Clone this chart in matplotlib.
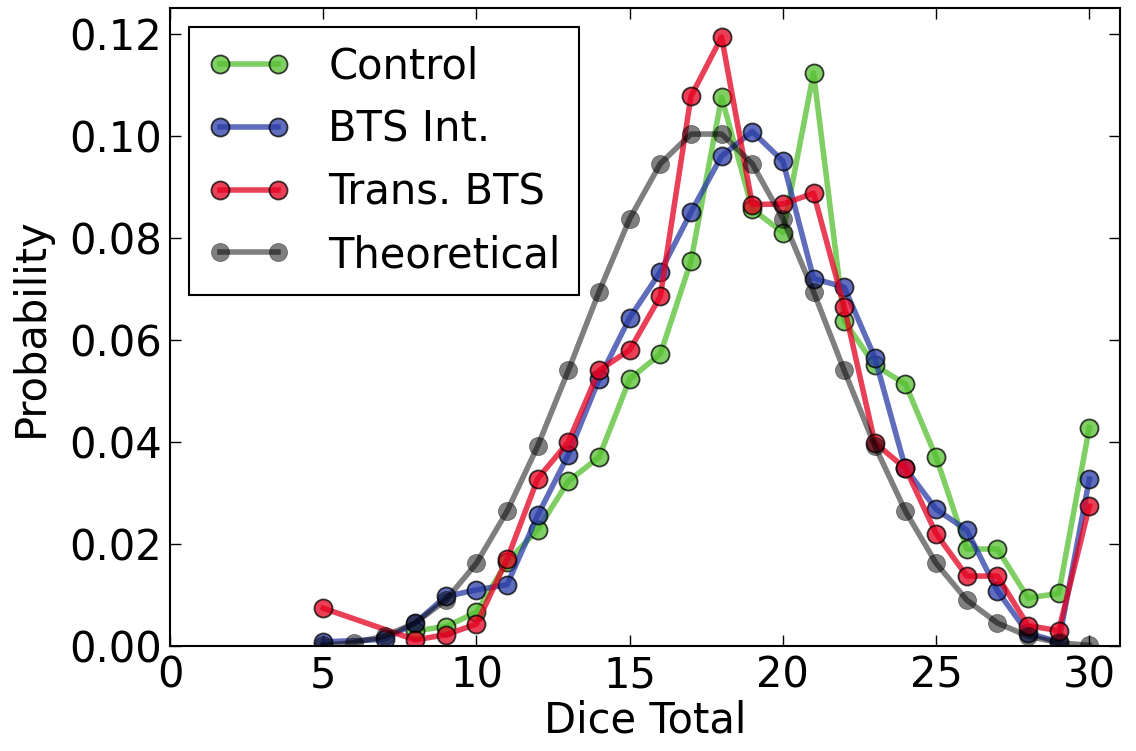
import matplotlib
matplotlib.use("Agg")
import matplotlib.pyplot as plt

# Data
x_control = list(range(8, 31))
control = [0.0030, 0.0038, 0.0066, 0.0165, 0.0228, 0.0323, 0.0370, 0.0523, 0.0572,
           0.0754, 0.1075, 0.0856, 0.0810, 0.1123, 0.0637, 0.0550, 0.0513, 0.0370,
           0.0190, 0.0190, 0.0094, 0.0103, 0.0428]

x_bts = [5] + list(range(7, 31))
bts = [0.0008, 0.0013, 0.0045, 0.0097, 0.0110, 0.0120, 0.0256, 0.0375, 0.0523,
       0.0643, 0.0733, 0.0850, 0.0960, 0.1008, 0.0950, 0.0720, 0.0703, 0.0565,
       0.0348, 0.0268, 0.0227, 0.0108, 0.0025, 0.0008, 0.0327]

x_trans = [5] + list(range(8, 31))
trans = [0.0074, 0.0012, 0.0022, 0.0043, 0.0170, 0.0328, 0.0400, 0.0540, 0.0580,
         0.0685, 0.1077, 0.1193, 0.0865, 0.0866, 0.0887, 0.0665, 0.0398, 0.0348,
         0.0220, 0.0137, 0.0137, 0.0040, 0.0030, 0.0274]

x_theory = list(range(5, 31))
theory = [0.00013, 0.00064, 0.00193, 0.0045, 0.0090, 0.0162, 0.0264, 0.0392,
          0.0540, 0.0694, 0.0837, 0.0945, 0.1003, 0.1003, 0.0945, 0.0837, 0.0694,
          0.0540, 0.0392, 0.0264, 0.0162, 0.0090, 0.0045, 0.00193, 0.00064, 0.00013]

labels = ["Control", "BTS Int.", "Trans. BTS", "Theoretical"]
xticks = [0, 5, 10, 15, 20, 25, 30]
yticks = [0.00, 0.02, 0.04, 0.06, 0.08, 0.10, 0.12]

plt.rcParams['font.family'] = ['DejaVu Sans']
fig = plt.figure(figsize=(11.36, 7.51), dpi=100)
ax = fig.add_axes([170/1136, 1 - 646/751, (1120-170)/1136, (646-8)/751])

common = dict(lw=4, marker='o', markersize=13, markeredgewidth=1.3)
ax.plot(x_control, control, color='#55bf30', alpha=0.75, markeredgecolor='k', label=labels[0], **common)
ax.plot(x_bts, bts, color='#2a3ca6', alpha=0.75, markeredgecolor='k', label=labels[1], **common)
ax.plot(x_trans, trans, color='#e3001f', alpha=0.75, markeredgecolor='k', label=labels[2], **common)
ax.plot(x_theory, theory, color='k', alpha=0.5, markeredgecolor='k', label=labels[3],
        lw=4, marker='o', markersize=13, markeredgewidth=0.5)

ax.set_xlim(0, 31)
ax.set_ylim(0, 0.125)
ax.set_xticks(xticks)
ax.set_yticks(yticks)
ax.set_yticklabels([f"{v:.2f}" for v in yticks])
ax.tick_params(direction='in', top=True, right=True, length=8, width=1,
               labelsize=30, pad=6)
for s in ax.spines.values():
    s.set_linewidth(1.5)
ax.set_xlabel("Dice Total", fontsize=30, labelpad=2)
ax.set_ylabel("Probability", fontsize=30, labelpad=12)

leg = ax.legend(loc='upper left', numpoints=2, fontsize=30, frameon=True, fancybox=False,
                edgecolor='k', framealpha=1, borderpad=0.45, labelspacing=0.5,
                handlelength=2.0, handletextpad=0.9, borderaxespad=0.45)
leg.get_frame().set_linewidth(1.5)

fig.savefig("out.png", dpi=100)
